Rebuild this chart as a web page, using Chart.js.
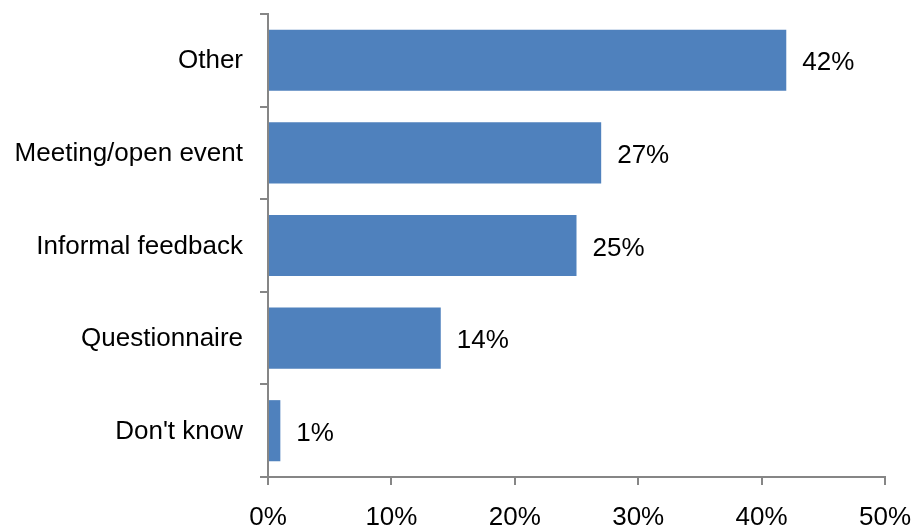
<!DOCTYPE html>
<html>
<head>
<meta charset="utf-8">
<script src="https://cdn.jsdelivr.net/npm/chart.js@4.4.0/dist/chart.umd.min.js"></script>
<style>
  html, body { margin: 0; padding: 0; background: #fff; }
  #wrap { width: 915px; height: 529px; }
</style>
</head>
<body>
<div id="wrap"><canvas id="myChart"></canvas></div>
<script>
var categories = ["Other", "Meeting/open event", "Informal feedback", "Questionnaire", "Don't know"];
var percentValues = [42, 27, 25, 14, 1];
var xTickValues = [0, 10, 20, 30, 40, 50];

var fontFamily = "'Liberation Sans', Arial, sans-serif";
var fontSize = 26;
var axisGray = "#868686";

// draws "42%" etc. right of each bar
var valueLabels = {
  id: "valueLabels",
  afterDatasetsDraw: function(chart) {
    var ctx = chart.ctx;
    var meta = chart.getDatasetMeta(0);
    ctx.save();
    ctx.font = fontSize + "px " + fontFamily;
    ctx.fillStyle = "#000";
    ctx.textBaseline = "middle";
    ctx.textAlign = "left";
    meta.data.forEach(function(bar, i) {
      ctx.fillText(percentValues[i] + "%", bar.x + 16, bar.y + 3);
    });
    ctx.restore();
  }
};

var ctx = document.getElementById('myChart').getContext('2d');
var chart = new Chart(ctx, {
  type: 'bar',
  data: {
    labels: categories,
    datasets: [{
      label: 'Share',
      data: percentValues,
      backgroundColor: '#4F81BD',
      borderWidth: 0,
      barPercentage: 0.66,
      categoryPercentage: 1
    }]
  },
  options: {
    indexAxis: 'y',
    responsive: true,
    maintainAspectRatio: false,
    animation: false,
    layout: { padding: { top: 14, right: 30, left: 0, bottom: 0 } },
    plugins: {
      legend: { display: false },
      tooltip: { enabled: false }
    },
    scales: {
      x: {
        min: 0,
        max: 50,
        afterBuildTicks: function(scale) {
          scale.ticks = xTickValues.map(function(v) { return { value: v }; });
        },
        afterFit: function(scale) {
          scale.height = 52;
          scale.paddingLeft = 0;
          scale.paddingRight = 0;
        },
        ticks: {
          callback: function(v) { return v + '%'; },
          color: '#000',
          font: { family: fontFamily, size: fontSize },
          padding: 17,
          maxRotation: 0
        },
        grid: {
          drawOnChartArea: false,
          drawTicks: true,
          tickLength: 8,
          color: axisGray,
          lineWidth: 2
        },
        border: { display: true, color: axisGray, width: 2 }
      },
      y: {
        afterFit: function(scale) {
          scale.width = 268;
          scale.paddingTop = 0;
          scale.paddingBottom = 0;
        },
        ticks: {
          color: '#000',
          font: { family: fontFamily, size: fontSize },
          padding: 17,
          labelOffset: 1
        },
        grid: {
          offset: true,
          drawOnChartArea: false,
          drawTicks: true,
          tickLength: 8,
          color: axisGray,
          lineWidth: 2
        },
        border: { display: true, color: axisGray, width: 2 }
      }
    }
  },
  plugins: [valueLabels]
});
</script>
</body>
</html>
